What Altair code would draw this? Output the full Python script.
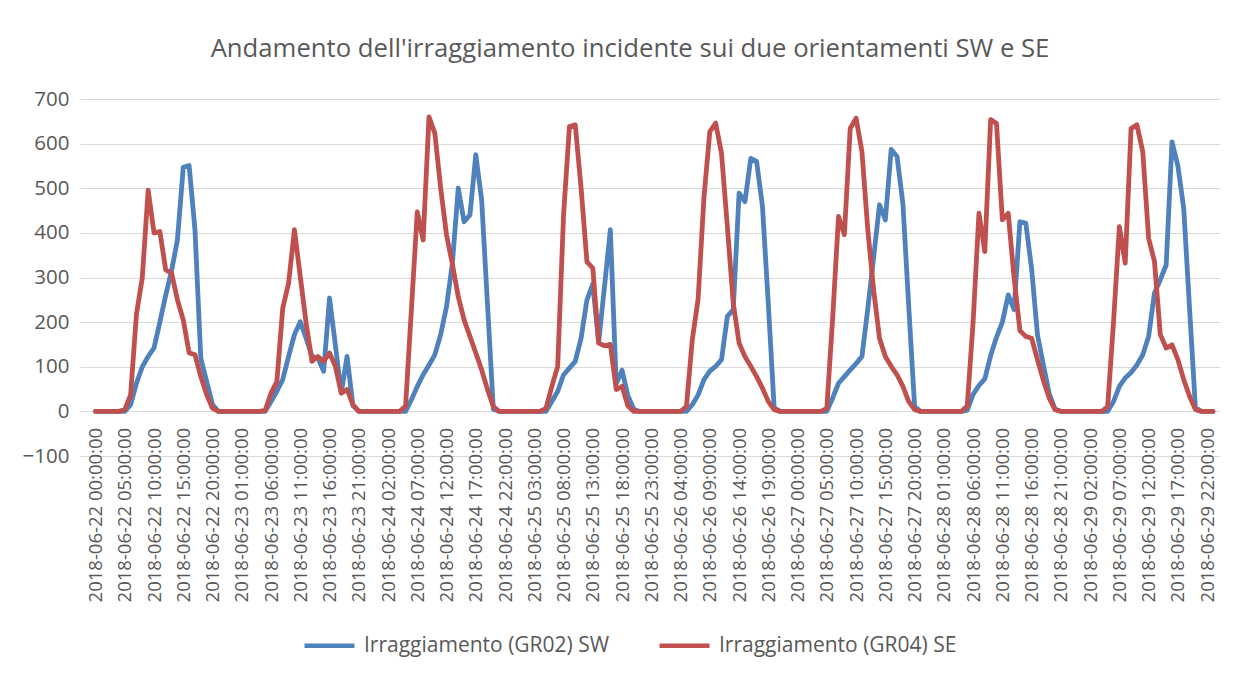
import altair as alt
import pandas as pd

# ---- data -------------------------------------------------------------
times = pd.date_range("2018-06-22 00:00:00", periods=192, freq="h")
time_str = [t.strftime("%Y-%m-%dT%H:%M:%S") for t in times]
tick_times = list(times[::5])          # category labels every 5 hours

series_names = ["Irraggiamento (GR02) SW", "Irraggiamento (GR04) SE"]
series_colors = ["#4F81BD", "#C0504D"]
y_ticks = [-100, 0, 100, 200, 300, 400, 500, 600, 700]

sw = (
    [0, 0, 0, 0, 0, 0, 15, 63, 100, 123, 142, 200, 260, 315, 384, 547, 551, 407, 119, 67, 15, 0, 0, 0]
    + [0, 0, 0, 0, 0, 0, 22, 45, 71, 123, 172, 201, 164, 123, 120, 90, 254, 148, 41, 123, 13, 0, 0, 0]
    + [0, 0, 0, 0, 0, 0, 26, 56, 82, 104, 127, 172, 235, 332, 500, 425, 440, 575, 474, 240, 5, 0, 0, 0]
    + [0, 0, 0, 0, 0, 0, 22, 45, 82, 97, 112, 164, 250, 285, 155, 280, 407, 62, 92, 35, 5, 0, 0, 0]
    + [0, 0, 0, 0, 0, 0, 15, 37, 71, 90, 101, 116, 213, 228, 489, 470, 567, 560, 459, 240, 8, 0, 0, 0]
    + [0, 0, 0, 0, 0, 0, 30, 63, 78, 93, 107, 123, 230, 345, 463, 429, 587, 571, 466, 235, 11, 0, 0, 0]
    + [0, 0, 0, 0, 0, 3, 38, 58, 73, 125, 166, 200, 261, 228, 425, 422, 320, 172, 105, 40, 5, 0, 0, 0]
    + [0, 0, 0, 0, 0, 0, 22, 56, 75, 87, 104, 127, 168, 265, 295, 328, 604, 550, 455, 230, 8, 0, 0, 0]
)

se = (
    [0, 0, 0, 0, 0, 4, 37, 218, 300, 496, 400, 403, 317, 310, 250, 205, 131, 127, 78, 37, 7, 0, 0, 0]
    + [0, 0, 0, 0, 0, 2, 41, 67, 231, 287, 407, 302, 198, 112, 123, 112, 131, 101, 41, 49, 15, 0, 0, 0]
    + [0, 0, 0, 0, 0, 12, 230, 447, 384, 660, 623, 500, 395, 330, 257, 205, 168, 131, 93, 49, 11, 0, 0, 0]
    + [0, 0, 0, 0, 0, 7, 56, 101, 440, 638, 642, 500, 335, 321, 153, 147, 150, 49, 56, 12, 0, 0, 0, 0]
    + [0, 0, 0, 0, 0, 11, 160, 252, 480, 627, 646, 578, 414, 243, 153, 123, 101, 78, 52, 22, 4, 0, 0, 0]
    + [0, 0, 0, 0, 0, 7, 210, 437, 396, 634, 657, 582, 407, 272, 164, 123, 101, 82, 56, 22, 4, 0, 0, 0]
    + [0, 0, 0, 0, 0, 12, 200, 444, 358, 654, 645, 429, 444, 300, 181, 168, 164, 116, 70, 30, 4, 0, 0, 0]
    + [0, 0, 0, 0, 0, 11, 200, 414, 332, 634, 642, 582, 388, 336, 172, 142, 149, 116, 71, 34, 4, 0, 0, 0]
)

df = pd.DataFrame({
    "time": time_str * 2,
    "value": sw + se,
    "serie": [series_names[0]] * len(sw) + [series_names[1]] * len(se),
})

FONT = "Open Sans"
GREY = "#595959"


def dt(t):
    return alt.DateTime(year=t.year, month=t.month, date=t.day,
                        hours=t.hour, minutes=t.minute)


x_enc = alt.X(
    "time:T",
    title=None,
    scale=alt.Scale(
        domain=[alt.DateTime(year=2018, month=6, date=21, hours=21, minutes=21),
                alt.DateTime(year=2018, month=6, date=30, hours=0, minutes=12)],
        nice=False,
    ),
    axis=alt.Axis(
        values=[dt(t) for t in tick_times],
        format="%Y-%m-%d %H:%M:%S",
        labelAngle=270,
        labelAlign="right",
        labelBaseline="middle",
        labelPadding=16,
        offset=-44.6,
        domain=False,
        ticks=False,
        tickSize=0,
        grid=False,
        labelFont=FONT,
        labelFontSize=18.5,
        labelColor=GREY,
        labelOverlap=False,
    ),
)

y_enc = alt.Y(
    "value:Q",
    title=None,
    scale=alt.Scale(domain=[-100, 700], nice=False, zero=False),
    axis=alt.Axis(
        values=y_ticks,
        grid=True,
        gridColor="#D9D9D9",
        gridWidth=1,
        domain=False,
        ticks=False,
        tickSize=0,
        labelPadding=11,
        labelFont=FONT,
        labelFontSize=20.5,
        labelColor=GREY,
    ),
)

color_enc = alt.Color(
    "serie:N",
    scale=alt.Scale(domain=series_names, range=series_colors),
    legend=alt.Legend(
        title=None,
        orient="none",
        legendX=222,
        legendY=519,
        direction="horizontal",
        symbolType="stroke",
        symbolSize=2500,
        symbolStrokeWidth=4.7,
        labelFont=FONT,
        labelFontSize=21,
        labelColor=GREY,
        labelOffset=7,
        labelLimit=400,
        columnPadding=40,
        padding=0,
    ),
)

base = alt.Chart(df).mark_line(
    strokeWidth=4.8, strokeCap="round", strokeJoin="round"
).encode(x=x_enc, y=y_enc, color=color_enc)

layer_sw = base.transform_filter(alt.datum.serie == series_names[0])
layer_se = base.transform_filter(alt.datum.serie == series_names[1])

chart = (
    alt.layer(layer_sw, layer_se)
    .properties(
        width=1140,
        height=357,
        autosize=alt.AutoSizeParams(type="none"),
        padding={"left": 72, "top": 91, "right": 8, "bottom": 212},
        title=alt.TitleParams(
            "Andamento dell'irraggiamento incidente sui due orientamenti SW e SE",
            font=FONT,
            fontSize=25.7,
            fontWeight="normal",
            color=GREY,
            anchor="middle",
            offset=26,
            dx=-20,
        ),
    )
    .configure_view(stroke=None)
)

chart.save("out.html", embed_options={"renderer": "svg", "actions": False})
